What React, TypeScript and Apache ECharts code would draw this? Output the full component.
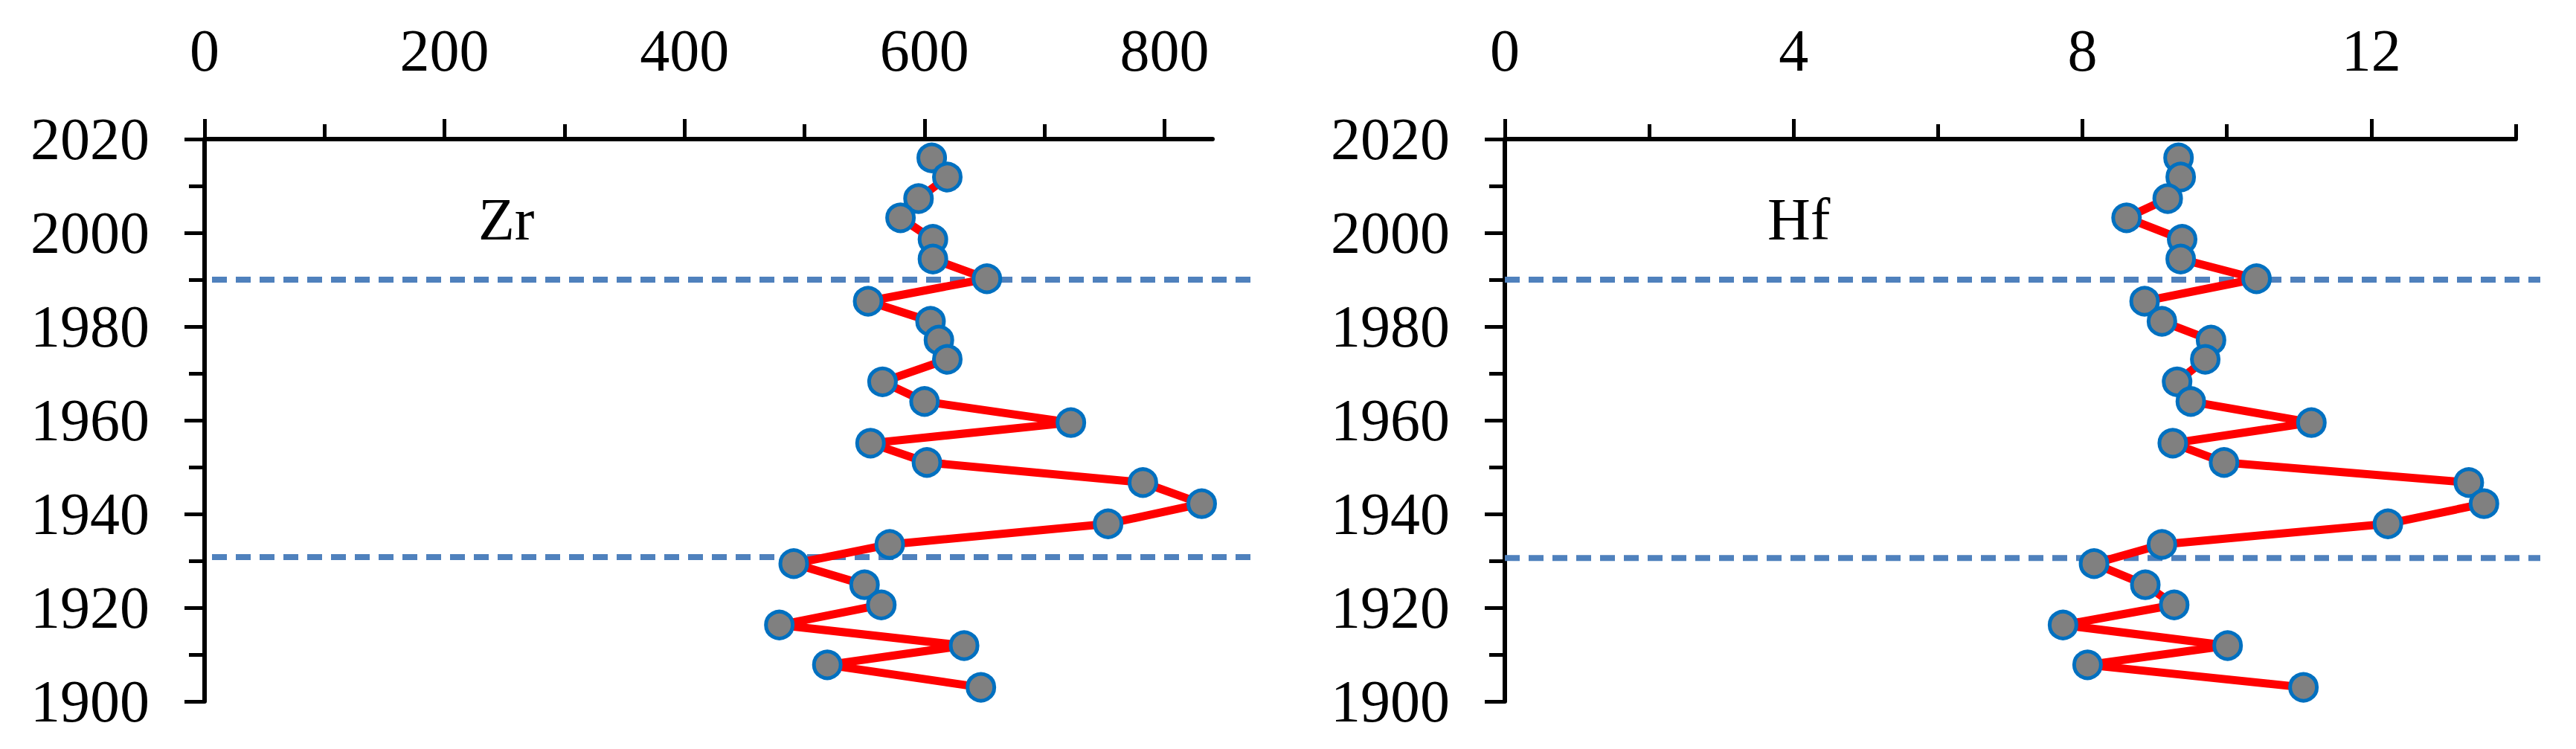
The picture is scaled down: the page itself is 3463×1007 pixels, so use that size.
import React, { useEffect, useRef } from 'react';
import * as echarts from 'echarts';

// ---- data ----
const years = [
  2016.0, 2011.9, 2007.3, 2003.2, 1998.6, 1994.4, 1990.2, 1985.4, 1981.1, 1977.1,
  1973.0, 1968.2, 1964.0, 1959.5, 1955.1, 1951.0, 1946.7, 1942.2, 1937.9, 1933.5,
  1929.4, 1924.9, 1920.6, 1916.3, 1911.9, 1907.8, 1903.0,
];
const zrValues = [
  606, 619, 595, 580, 607, 607, 652, 553, 605, 612,
  619, 565, 600, 722, 555, 602, 782, 831, 753, 571,
  491, 550, 564, 479, 633, 519, 647,
];
const hfValues = [
  9.33, 9.36, 9.18, 8.61, 9.38, 9.36, 10.41, 8.86, 9.1, 9.78,
  9.7, 9.31, 9.5, 11.17, 9.25, 9.96, 13.35, 13.56, 12.23, 9.1,
  8.16, 8.87, 9.27, 7.73, 10.01, 8.07, 11.06,
];
const zrMajorTicks = [0, 200, 400, 600, 800];
const zrMinorTicks = [100, 300, 500, 700];
const hfMajorTicks = [0, 4, 8, 12];
const hfMinorTicks = [2, 6, 10, 14];
const yearMin = 1900;
const yearMax = 2020;
const zrMax = 840;
const hfMax = 14;
const zrBoundaries = [1990, 1930.8];
const hfBoundaries = [1990, 1930.6];
const panelNames = ['Zr', 'Hf'];

const W = 3463;
const H = 1007;
const FONT = '"Liberation Serif", "Times New Roman", serif';

const AXIS_W = 6;
const TICK_W = 5;

function majorX(gridIndex: number, max: number, interval: number, ticks: number[]) {
  return {
    type: 'value',
    gridIndex,
    position: 'top',
    min: 0,
    max,
    interval,
    splitLine: { show: false },
    axisLine: { show: true, onZero: false, lineStyle: { color: '#000', width: AXIS_W } },
    axisTick: {
      show: true,
      inside: false,
      length: 27,
      customValues: ticks,
      lineStyle: { color: '#000', width: TICK_W },
    },
    axisLabel: {
      show: true,
      margin: 79,
      customValues: ticks,
      formatter: (v: number) => (ticks.indexOf(v) >= 0 ? String(v) : ''),
      fontSize: 80,
      fontFamily: FONT,
      color: '#000',
    },
  };
}

function minorX(gridIndex: number, max: number, interval: number, ticks: number[]) {
  return {
    type: 'value',
    gridIndex,
    position: 'top',
    min: 0,
    max,
    interval,
    splitLine: { show: false },
    axisLine: { show: false, onZero: false },
    axisTick: {
      show: true,
      inside: false,
      length: 20,
      customValues: ticks,
      lineStyle: { color: '#000', width: TICK_W },
    },
    axisLabel: { show: false },
  };
}

function yearAxis(gridIndex: number) {
  return {
    type: 'value',
    gridIndex,
    position: 'left',
    min: yearMin,
    max: yearMax,
    interval: 20,
    splitLine: { show: false },
    axisLine: { show: true, onZero: false, lineStyle: { color: '#000', width: AXIS_W } },
    axisTick: { show: true, inside: false, length: 27, lineStyle: { color: '#000', width: TICK_W } },
    minorTick: { show: true, splitNumber: 2, length: 21, lineStyle: { color: '#000', width: TICK_W } },
    axisLabel: {
      show: true,
      margin: 74,
      formatter: (v: number) => String(v),
      fontSize: 80,
      fontFamily: FONT,
      color: '#000',
    },
  };
}

function hiddenAxis(gridIndex: number, min: number, max: number) {
  return {
    type: 'value',
    gridIndex,
    min,
    max,
    show: false,
    splitLine: { show: false },
  };
}

function dataSeries(name: string, values: number[], xAxisIndex: number, yAxisIndex: number) {
  return {
    name,
    type: 'line',
    xAxisIndex,
    yAxisIndex,
    data: values.map((v, i) => [v, years[i]]),
    symbol: 'circle',
    symbolSize: 36,
    showSymbol: true,
    clip: false,
    z: 5,
    lineStyle: { color: '#FF0000', width: 11 },
    itemStyle: { color: '#808080', borderColor: '#0070C0', borderWidth: 5 },
  };
}

function boundarySeries(b: number, xAxisIndex: number, yAxisIndex: number) {
  return {
    type: 'line',
    xAxisIndex,
    yAxisIndex,
    data: [[0, b], [1, b]],
    showSymbol: false,
    symbol: 'none',
    silent: true,
    z: 1,
    lineStyle: { color: '#4F81BD', width: 8, type: [20, 12] },
  };
}

export default function App() {
  const ref = useRef<HTMLDivElement>(null);

  useEffect(() => {
    document.body.style.margin = '0';
    const chart = echarts.init(ref.current!, null, { renderer: 'svg' });

    const option: any = {
      animation: false,
      backgroundColor: '#fff',
      title: [
        {
          text: panelNames[0],
          left: 643,
          top: 255,
          padding: 0,
          textStyle: { fontSize: 80, fontFamily: FONT, fontWeight: 'normal', color: '#000' },
        },
        {
          text: panelNames[1],
          left: 2376,
          top: 255,
          padding: 0,
          textStyle: { fontSize: 80, fontFamily: FONT, fontWeight: 'normal', color: '#000' },
        },
      ],
      grid: [
        { left: 275, top: 187, width: 1355, height: 756 },
        { left: 2023, top: 187, width: 1359, height: 756 },
        { left: 285, top: 187, width: 1400, height: 756 },
        { left: 2023, top: 187, width: 1392, height: 756 },
      ],
      xAxis: [
        majorX(0, zrMax, 200, zrMajorTicks),
        minorX(0, zrMax, 100, zrMinorTicks),
        majorX(1, hfMax, 4, hfMajorTicks),
        minorX(1, hfMax, 2, hfMinorTicks),
        hiddenAxis(2, 0, 1),
        hiddenAxis(3, 0, 1),
      ],
      yAxis: [
        yearAxis(0),
        yearAxis(1),
        hiddenAxis(2, yearMin, yearMax),
        hiddenAxis(3, yearMin, yearMax),
      ],
      series: [
        ...zrBoundaries.map((b) => boundarySeries(b, 4, 2)),
        ...hfBoundaries.map((b) => boundarySeries(b, 5, 3)),
        dataSeries('Zr', zrValues, 0, 0),
        dataSeries('Hf', hfValues, 2, 1),
      ],
    };

    chart.setOption(option);
    return () => chart.dispose();
  }, []);

  return <div ref={ref} style={{ width: W, height: H }} />;
}
